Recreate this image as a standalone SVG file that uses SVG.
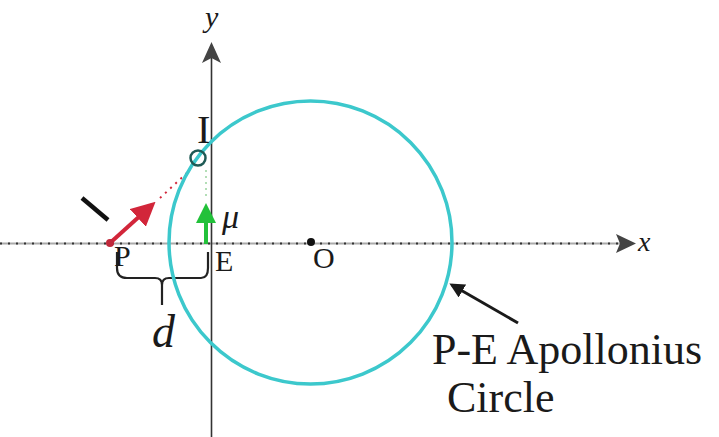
<svg xmlns="http://www.w3.org/2000/svg" width="719" height="437" viewBox="0 0 719 437">
<defs>
<style>
.t{font-family:'Liberation Serif','Times New Roman','DejaVu Serif',serif;fill:#1a1a1a}
.it{font-style:italic}
.axis{stroke:#333;stroke-width:1.6;fill:none}
</style>
<marker id="ahR" viewBox="0 0 10 10" refX="8" refY="5" markerWidth="6" markerHeight="6" orient="auto"><path d="M0,0L10,5L0,10z" fill="#d2263a"/></marker>
<marker id="ahG" viewBox="0 0 10 10" refX="8" refY="5" markerWidth="5" markerHeight="5" orient="auto"><path d="M0,0L10,5L0,10z" fill="#22c13a"/></marker>
<marker id="ahK" viewBox="0 0 10 10" refX="8" refY="5" markerWidth="5" markerHeight="5" orient="auto"><path d="M0,0L10,5L0,10z" fill="#1a1a1a"/></marker>
</defs>
<rect width="719" height="437" fill="#fff"/>
<g id="connectors">
<line x1="0" y1="243.5" x2="620" y2="243.5" stroke="#aaa" stroke-width="2"/>
<line x1="0" y1="243.5" x2="620" y2="243.5" stroke="#333" stroke-width="2" stroke-dasharray="2 6"/>
<path d="M636,243.5L616,234L620,243.5L616,253z" fill="#444"/>
<line x1="211.5" y1="437" x2="211.5" y2="55" class="axis"/>
<path d="M211.5,42L202,63L211.5,58L221,63z" fill="#444"/>
<line x1="110" y1="243" x2="152" y2="205" stroke="#d2263a" stroke-width="4" marker-end="url(#ahR)"/>
<line x1="160" y1="198" x2="190" y2="170" stroke="#d2263a" stroke-width="2" stroke-dasharray="2 5"/>
<line x1="206" y1="244" x2="206" y2="207" stroke="#22c13a" stroke-width="4" marker-end="url(#ahG)"/>
<line x1="206" y1="196" x2="206" y2="168" stroke="#9bd49f" stroke-width="1.5" stroke-dasharray="2 4"/>
<line x1="518" y1="323" x2="452" y2="285" stroke="#1a1a1a" stroke-width="3" marker-end="url(#ahK)"/>
<path d="M117,252V268Q117,278 127,278H155Q162,278 162,285V305M162,285Q162,278 169,278H201Q208,278 208,268V252" fill="none" stroke="#222" stroke-width="2.2"/>
<line x1="82" y1="198" x2="108" y2="220" stroke="#111" stroke-width="4.5"/>
</g>
<g id="circle"><circle cx="310.5" cy="242.5" r="141.5" fill="none" stroke="#3cc8cc" stroke-width="3.5"/></g>
<g font-family="'Liberation Serif','Times New Roman',serif">
<g id="nodeI"><circle cx="198" cy="158" r="7.5" fill="none" stroke="#1f5a55" stroke-width="2.5"/>
<text class="t" x="197" y="143" font-size="40">I</text></g>
<g id="nodeP"><circle cx="110" cy="243" r="4" fill="#c0283a"/><text class="t" x="114" y="266" font-size="30">P</text></g>
<g id="nodeE"><text class="t" x="215" y="271" font-size="30">E</text></g>
<g id="nodeO"><circle cx="311" cy="242" r="4" fill="#111"/><text class="t" x="313" y="268" font-size="30">O</text></g>
<g id="labels">
<text class="t it" x="222" y="228" font-size="34">μ</text>
<text class="t it" x="152" y="347" font-size="46">d</text>
<text class="t it" x="638" y="251" font-size="28">x</text>
<text class="t it" x="205" y="27" font-size="30">y</text>
<text class="t" x="432" y="364" font-size="44">P-E Apollonius</text>
<text class="t" x="447" y="412" font-size="44">Circle</text>
</g>
</g>
</svg>
